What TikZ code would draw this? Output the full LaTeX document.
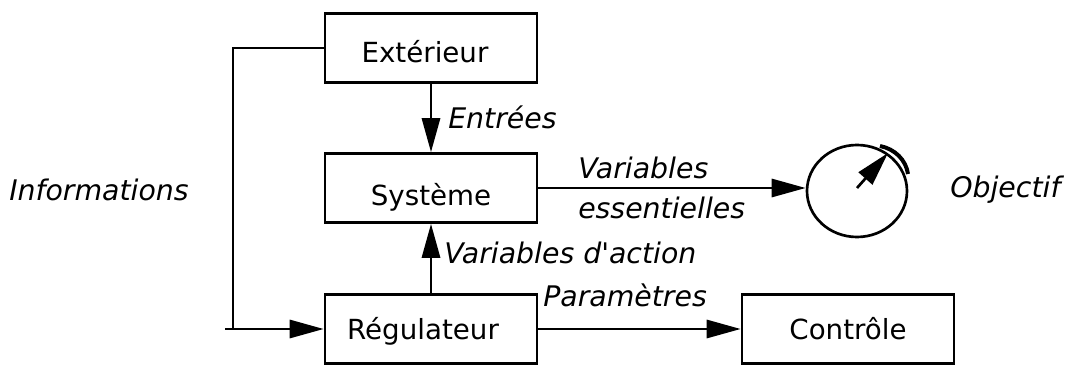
\documentclass[tikz,border=0pt]{standalone}
\usepackage{fontspec}
\setmainfont{DejaVu Sans}
\usetikzlibrary{positioning,arrows.meta,shapes.geometric}
\def\PxLen{0.0264cm}
\tikzset{
	boite/.style={draw,line width=2pt,minimum width=212*\PxLen,minimum height=69*\PxLen,inner sep=0pt,text depth=0pt,font=\fontsize{20.8pt}{25pt}\selectfont},
	lien/.style={line width=2pt,-{Triangle[length=0.9cm,width=0.48cm]}},
	lbl/.style={inner sep=0pt,font=\fontsize{21.3pt}{25pt}\selectfont\itshape},
}
\begin{document}
\begin{tikzpicture}[x=0.0264cm,y=-0.0264cm]
	\useasboundingbox (0,0) rectangle (1075,365);
	\node[boite,text height=22.5pt] (ext) at (431,48) {Extérieur\hspace*{9pt}};
	\node[boite,text height=27pt] (sys) at (431,188) {Système};
	\node[boite,text height=16.5pt] (reg) at (431,329) {Régulateur\hspace*{12pt}};
	\node[boite,text height=16.5pt] (ctl) at (848,329) {Contrôle};
	\node[draw,ellipse,line width=2pt,minimum width=100*\PxLen,minimum height=92*\PxLen,inner sep=0pt] (obj) at (857,191) {};
	% texts
	\node[lbl,anchor=west] (ent) at (448,117) {Entrées};
	\node[lbl,anchor=west] (var) at (578,168) {Variables};
	\node[lbl,anchor=west] (ess) at (578,208) {essentielles};
	\node[lbl,anchor=west] (act) at (444,253) {Variables d\textquotesingle action};
	\node[lbl,anchor=west] (par) at (543,295) {Paramètres};
	\node[lbl,anchor=west] (inf) at (9,190) {Informations};
	\node[lbl,anchor=west] (but) at (950,190) {Objectif};
	% arrows
	\draw[lien] (ext) -- (sys);
	\draw[lien] (reg) -- (sys);
	\draw[lien] (sys.east) -- (sys.east-|obj.west);
	\draw[lien] (reg) -- (ctl);
	\coordinate (tic) at (225,329);
	\coordinate (coin) at (233,48);
	\coordinate (pied) at (233,329);
	\draw[line width=2pt] (ext.west|-coin) -- (coin) -- (pied);
	\draw[lien] (tic) -- (reg.west|-tic);
	% needle
	\coordinate (aig) at (888,153);
	\coordinate (base) at (857,188);
	\draw[lien] (base) -- (aig);
	\draw[line width=3pt] (880,146) .. controls (895,149) and (906,160) .. (908,174);
\end{tikzpicture}
\end{document}
